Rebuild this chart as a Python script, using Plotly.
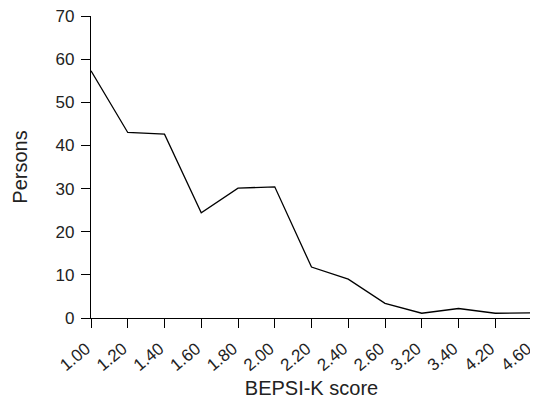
import plotly.graph_objects as go

scores = ["1.00", "1.20", "1.40", "1.60", "1.80", "2.00", "2.20", "2.40",
          "2.60", "3.20", "3.40", "4.20", "4.60"]
persons = [57.3, 43.0, 42.6, 24.4, 30.1, 30.4, 11.8, 9.0, 3.4, 1.1, 2.2, 1.1, 1.2]

fig = go.Figure()
fig.add_trace(go.Scatter(x=scores, y=persons, mode="lines",
                         line=dict(color="black", width=1.3)))

font = "Liberation Sans, Arial, sans-serif"
# page body has an 8px margin, so the figure is sized to fit the window
fig.update_layout(
    width=530, height=391,
    margin=dict(l=83, r=6, t=8, b=81),
    paper_bgcolor="white", plot_bgcolor="white",
    showlegend=False,
    font=dict(family=font, size=17, color="#222"),
)
fig.update_xaxes(
    type="category", range=[0, len(scores) - 1], automargin=False,
    showline=True, linecolor="black", linewidth=1.3,
    ticks="outside", ticklen=9, tickcolor="black", tickwidth=1.3,
    tickangle=-40, showgrid=False, zeroline=False,
    tickfont=dict(size=17), ticklabelshift=-5, ticklabelstandoff=4,
    ticklabeloverflow="allow",
    title=dict(text="BEPSI-K score", font=dict(size=20), standoff=8),
)
fig.update_yaxes(
    range=[0, 70], dtick=10, automargin=False,
    showline=True, linecolor="black", linewidth=1.3,
    ticks="outside", ticklen=9, tickcolor="black", tickwidth=1.3,
    showgrid=False, zeroline=False, ticklabeloverflow="allow",
    tickfont=dict(size=17), ticklabelstandoff=3,
    title=dict(text="Persons", font=dict(size=20), standoff=22),
)
fig.write_html("out.html")
